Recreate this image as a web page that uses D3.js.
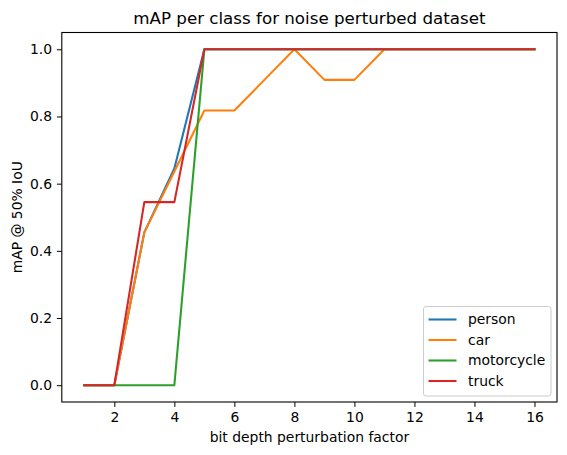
<!DOCTYPE html>
<html>
<head>
<meta charset="utf-8">
<script src="https://cdn.jsdelivr.net/npm/d3@7"></script>
<style>
  body { margin: 0; background: #fff; }
  svg text { font-family: "DejaVu Sans", sans-serif; fill: #000; }
</style>
</head>
<body>
<div id="chart"></div>
<script>
// data
const xValues = [1, 2, 3, 4, 5, 6, 7, 8, 9, 10, 11, 12, 13, 14, 15, 16];
const person = [0, 0, 0.455, 0.645, 1, 1, 1, 1, 1, 1, 1, 1, 1, 1, 1, 1];
const car = [0, 0, 0.455, 0.636, 0.818, 0.818, 0.909, 1, 0.909, 0.909, 1, 1, 1, 1, 1, 1];
const motorcycle = [0, 0, 0, 0, 1, 1, 1, 1, 1, 1, 1, 1, 1, 1, 1, 1];
const truck = [0, 0, 0.545, 0.545, 1, 1, 1, 1, 1, 1, 1, 1, 1, 1, 1, 1];
const seriesNames = ["person", "car", "motorcycle", "truck"];
const xTicks = [2, 4, 6, 8, 10, 12, 14, 16];
const yTicks = [0, 0.2, 0.4, 0.6, 0.8, 1.0];

const colors = ["#1f77b4", "#ff7f0e", "#2ca02c", "#d62728"];
const series = [person, car, motorcycle, truck].map((vals, i) => ({
    name: seriesNames[i],
    color: colors[i],
    points: xValues.map((x, j) => ({x: x, y: vals[j]}))
}));

const W = 567, H = 455;
const margin = {top: 32.5, right: 10, bottom: 53, left: 61.8};
const width = 557 - margin.left,
    height = 402 - margin.top;

const svg = d3.select("#chart").append("svg")
    .attr("width", W)
    .attr("height", H);

const g = svg.append("g")
    .attr("transform", "translate(" + margin.left + "," + margin.top + ")");

const x = d3.scaleLinear().domain([0.25, 16.75]).range([0, width]);
const y = d3.scaleLinear().domain([-0.05, 1.05]).range([height, 0]);

// axes
const xAxis = g.append("g")
    .attr("transform", "translate(0," + height + ")")
    .call(d3.axisBottom(x)
        .tickValues(xTicks)
        .tickFormat(d3.format("d"))
        .tickSizeInner(4.9)
        .tickSizeOuter(0)
        .tickPadding(4.9));

const yAxis = g.append("g")
    .call(d3.axisLeft(y)
        .tickValues(yTicks)
        .tickFormat(d3.format(".1f"))
        .tickSizeInner(4.9)
        .tickSizeOuter(0)
        .tickPadding(4.9));

[xAxis, yAxis].forEach(a => {
    a.select(".domain").remove();
    a.selectAll(".tick line").attr("stroke", "#000").attr("stroke-width", 1);
    a.selectAll(".tick text")
        .style("font-size", "13.9px")
        .style("font-family", "DejaVu Sans, sans-serif")
        .attr("fill", "#000");
});

// lines
const line = d3.line()
    .x(d => x(d.x))
    .y(d => y(d.y));

g.selectAll(".series")
    .data(series)
    .enter().append("path")
    .attr("class", "series")
    .attr("fill", "none")
    .attr("stroke", d => d.color)
    .attr("stroke-width", 2.08)
    .attr("stroke-linejoin", "round")
    .attr("stroke-linecap", "square")
    .attr("d", d => line(d.points));

// frame
g.append("rect")
    .attr("width", width)
    .attr("height", height)
    .attr("fill", "none")
    .attr("stroke", "#000")
    .attr("stroke-width", 1.1);

// title and axis labels
svg.append("text")
    .attr("x", margin.left + width / 2)
    .attr("y", 24)
    .attr("text-anchor", "middle")
    .style("font-size", "16.7px")
    .text("mAP per class for noise perturbed dataset");

svg.append("text")
    .attr("x", margin.left + width / 2)
    .attr("y", 442)
    .attr("text-anchor", "middle")
    .style("font-size", "13.9px")
    .text("bit depth perturbation factor");

svg.append("text")
    .attr("transform", "translate(22," + (margin.top + height / 2) + ") rotate(-90)")
    .attr("text-anchor", "middle")
    .style("font-size", "13.9px")
    .text("mAP @ 50% IoU");

// legend, lower right
const legend = svg.append("g").attr("transform", "translate(423.5,306.5)");
legend.append("rect")
    .attr("width", 127.5)
    .attr("height", 89.5)
    .attr("rx", 2.5)
    .attr("fill", "#fff")
    .attr("fill-opacity", 0.8)
    .attr("stroke", "#cccccc")
    .attr("stroke-width", 1);

const entry = legend.selectAll(".entry")
    .data(series)
    .enter().append("g")
    .attr("class", "entry")
    .attr("transform", (d, i) => "translate(0," + (13 + i * 20.5) + ")");

entry.append("line")
    .attr("x1", 5)
    .attr("x2", 33)
    .attr("stroke", d => d.color)
    .attr("stroke-width", 2.08);

entry.append("text")
    .attr("x", 44.5)
    .attr("dy", "0.35em")
    .style("font-size", "13.9px")
    .text(d => d.name);
</script>
</body>
</html>
